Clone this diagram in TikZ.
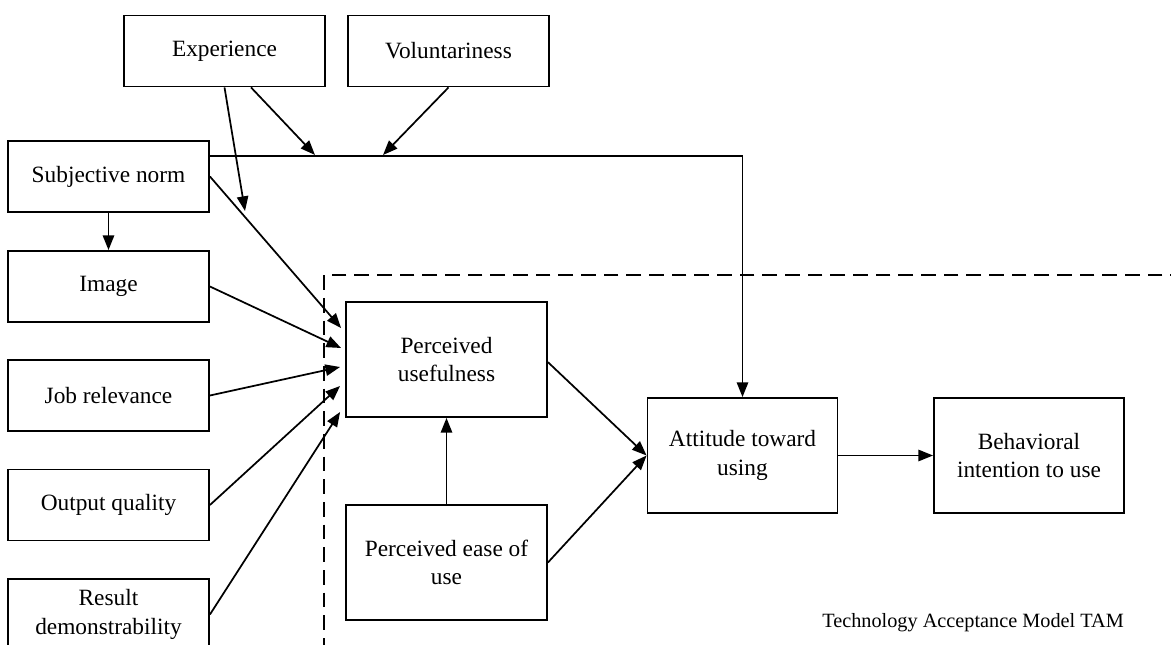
\documentclass[tikz,border=0pt]{standalone}
\usepackage{fontspec}
\setmainfont{Liberation Serif}
\usetikzlibrary{arrows.meta,calc}
\begin{document}
\begin{tikzpicture}[x=0.75pt,y=-0.75pt,
  box/.style={draw, line width=1.4pt, minimum width=150.75pt, minimum height=53.25pt,
    align=center, inner sep=0pt, font=\fontsize{17.5}{21.5}\selectfont},
  bigbox/.style={box, minimum height=86.25pt},
  narrowbox/.style={bigbox, minimum width=142.5pt},
  arr/.style={line width=1.3pt, -{Triangle[length=11pt,width=8.5pt]}},
  frame/.style={line width=1.4pt, dash pattern=on 11pt off 6pt}
]
\useasboundingbox (0,0) rectangle (1171,645);
\clip (0,0) rectangle (1171,645);

% moderators
\node[box] (exp) at (224.5,51) {Experience};
\node[box] (vol) at (448.5,51) {Voluntariness};

% external variables
\node[box] (sn)  at (108.5,176.5) {Subjective norm};
\node[box] (img) at (108.5,286.5) {Image};
\node[box] (job) at (108.5,395.5) {Job relevance};
\node[box] (out) at (108.5,505)   {Output quality};
\node[box] (res) at (108.5,614.5) {Result\\demonstrability};

% TAM core
\node[bigbox] (pu)   at (446.5,359.5) {Perceived\\usefulness};
\node[bigbox] (peou) at (446.5,562.5) {Perceived ease of\\use};
\node[narrowbox] (att) at (742.5,455.5) {Attitude toward\\using};
\node[narrowbox] (bi)  at (1029,455.5)  {Behavioral\\intention to use};

\node[anchor=base east, inner sep=0pt, font=\fontsize{15.2}{18}\selectfont] (cap) at (1124,627)
  {Technology Acceptance Model TAM};

% dashed frame around the TAM core
\draw[frame] (1185,275) -- (324,275) -- (324,660);

% points on connectors where the moderators act
\coordinate (m1) at (315,155);
\coordinate (m2) at (383,155);
\coordinate (m3) at (245,211);

% connectors
\draw[arr] ([shift={(0,16)}]sn.north east) -| (att.north);
\draw[arr] ([xshift=19.9pt]exp.south) -- (m1);
\draw[arr] (vol.south) -- (m2);
\draw[arr] (exp.south) -- (m3);
\draw[arr] (sn.south) -- (img.north);

\draw[arr] (sn.east)  -- ([shift={(-4,-31.5)}]pu.west);
\draw[arr] (img.east) -- ([shift={(-4,-11.5)}]pu.west);
\draw[arr] (job.east) -- ([shift={(-5,7.5)}]pu.west);
\draw[arr] (out.east) -- ([shift={(-5,26.5)}]pu.west);
\draw[arr] (res.east) -- ([shift={(-5,52.5)}]pu.west);

\draw[arr] (peou.north) -- (pu.south);
\draw[arr] ([yshift=-2pt]pu.east) -- (att.west);
\draw[arr] (peou.east) -- (att.west);
\draw[arr] (att.east) -- (bi.west);
\end{tikzpicture}
\end{document}
